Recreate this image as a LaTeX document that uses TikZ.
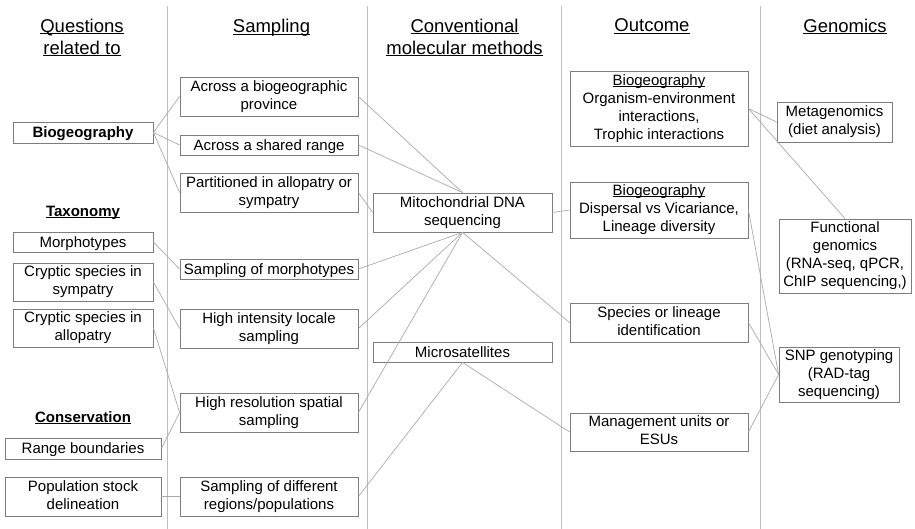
\documentclass[tikz,border=0pt]{standalone}
\usepackage{fontspec}
\setmainfont{Liberation Sans}
\definecolor{boxgray}{RGB}{125,125,125}
\definecolor{linkgray}{RGB}{170,170,170}
\definecolor{sepgray}{RGB}{190,190,190}
\newcommand{\ulin}[1]{\leavevmode\setbox0\hbox{#1}\rlap{\rule[-0.12em]{\wd0}{0.065em}}\box0}

\begin{document}
\begin{tikzpicture}[x=1pt,y=-1pt,
  cellbox/.style={draw=boxgray,line width=0.8pt,inner sep=0pt,align=center,font=\fontsize{15}{18}\selectfont,
    execute at begin node={\rule{0pt}{14.2pt}},execute at end node={\rule[-3.8pt]{0pt}{3.8pt}}},
  hdr/.style={align=center,font=\fontsize{18.5}{22}\selectfont},
  sublabel/.style={font=\fontsize{15}{18}\selectfont\bfseries},
  linkline/.style={draw=linkgray,line width=0.7pt},
  divider/.style={draw=sepgray,line width=1pt}]
  \useasboundingbox (0,0) rectangle (915,529);
  \draw[divider] (167,6) -- (167,529);
  \draw[divider] (367,6) -- (367,529);
  \draw[divider] (561,6) -- (561,529);
  \draw[divider] (760,6) -- (760,529);
  \node[hdr] (hquest) at (82,37.5) {\ulin{Questions}\\\ulin{related to}};
  \node[hdr] (hsamp) at (271.5,28.2) {\ulin{Sampling}};
  \node[hdr] (hconv) at (464.5,37.5) {\ulin{Conventional}\\\ulin{molecular methods}};
  \node[hdr] (hout) at (652,26.5) {\ulin{Outcome}};
  \node[hdr] (hgen) at (845,26.5) {\ulin{Genomics}};
  \node[cellbox,minimum width=140,minimum height=21] (qbio) at (83,132.5) {\textbf{Biogeography}};
  \node[sublabel] (ltaxo) at (83,213) {\ulin{Taxonomy}};
  \node[cellbox,minimum width=140,minimum height=20] (qmorph) at (83,242) {Morphotypes};
  \node[cellbox,minimum width=140,minimum height=38] (qsym) at (83,282) {Cryptic species in\\sympatry};
  \node[cellbox,minimum width=140,minimum height=38] (qallo) at (83,328) {Cryptic species in\\allopatry};
  \node[sublabel] (lcons) at (83,418) {\ulin{Conservation}};
  \node[cellbox,minimum width=156,minimum height=21] (qrange) at (83,448.5) {Range boundaries};
  \node[cellbox,minimum width=156,minimum height=39] (qpop) at (83,496.5) {Population stock\\delineation};
  \node[cellbox,minimum width=178,minimum height=39] (sbio) at (269,96.5) {Across a biogeographic\\province};
  \node[cellbox,minimum width=178,minimum height=20] (sshared) at (269,145) {Across a shared range};
  \node[cellbox,minimum width=178,minimum height=39] (spart) at (269,192.5) {Partitioned in allopatry or\\sympatry};
  \node[cellbox,minimum width=178,minimum height=20] (smorph) at (269,269) {Sampling of morphotypes};
  \node[cellbox,minimum width=178,minimum height=39] (sint) at (269,328.5) {High intensity locale\\sampling};
  \node[cellbox,minimum width=178,minimum height=39] (sres) at (269,412.5) {High resolution spatial\\sampling};
  \node[cellbox,minimum width=178,minimum height=39] (sdiff) at (269,496.5) {Sampling of different\\regions/populations};
  \node[cellbox,minimum width=179,minimum height=39] (mito) at (462.5,212.5) {Mitochondrial DNA\\sequencing};
  \node[cellbox,minimum width=179,minimum height=20] (micro) at (462.5,352) {Microsatellites};
  \node[cellbox,minimum width=178,minimum height=75] (obio1) at (659,108.5) {\ulin{Biogeography}\\Organism-environment\\interactions,\\Trophic interactions};
  \node[cellbox,minimum width=178,minimum height=56] (obio2) at (659,210) {\ulin{Biogeography}\\Dispersal vs Vicariance,\\Lineage diversity};
  \node[cellbox,minimum width=178,minimum height=39] (ospec) at (659,322.5) {Species or lineage\\identification};
  \node[cellbox,minimum width=178,minimum height=38] (omanage) at (659,432) {Management units or\\ESUs};
  \node[cellbox,minimum width=115,minimum height=40] (gmeta) at (834.5,122) {Metagenomics\\(diet analysis)};
  \node[cellbox,minimum width=132,minimum height=74] (gfunc) at (845,256) {Functional\\genomics\\(RNA-seq, qPCR,\\ChIP sequencing,)};
  \node[cellbox,minimum width=120,minimum height=55] (gsnp) at (839,374.5) {SNP genotyping\\(RAD-tag\\sequencing)};
  \draw[linkline] (qbio.east) -- (sbio.west);
  \draw[linkline] (qbio.east) -- (sshared.west);
  \draw[linkline] (qbio.east) -- (spart.west);
  \draw[linkline] (qmorph.east) -- (smorph.west);
  \draw[linkline] (qsym.east) -- (sint.west);
  \draw[linkline] (qallo.east) -- (sres.west);
  \draw[linkline] (qrange.east) -- (sres.west);
  \draw[linkline] (qpop.east) -- (sdiff.west);
  \draw[linkline] (sbio.east) -- (mito.north);
  \draw[linkline] (sshared.east) -- (mito.north);
  \draw[linkline] (spart.east) -- (mito.west);
  \draw[linkline] (smorph.east) -- (mito.south);
  \draw[linkline] (sint.east) -- (mito.south);
  \draw[linkline] (sres.east) -- (mito.south);
  \draw[linkline] (sdiff.east) -- (micro.south);
  \draw[linkline] (mito.east) -- (obio2.west);
  \draw[linkline] (mito.south) -- (ospec.west);
  \draw[linkline] (micro.south) -- (omanage.west);
  \draw[linkline] (obio1.east) -- (gmeta.west);
  \draw[linkline] (obio1.east) -- (gfunc.north);
  \draw[linkline] (obio2.east) -- (gsnp.west);
  \draw[linkline] (ospec.east) -- (gsnp.west);
  \draw[linkline] (omanage.east) -- (gsnp.west);
\end{tikzpicture}
\end{document}
